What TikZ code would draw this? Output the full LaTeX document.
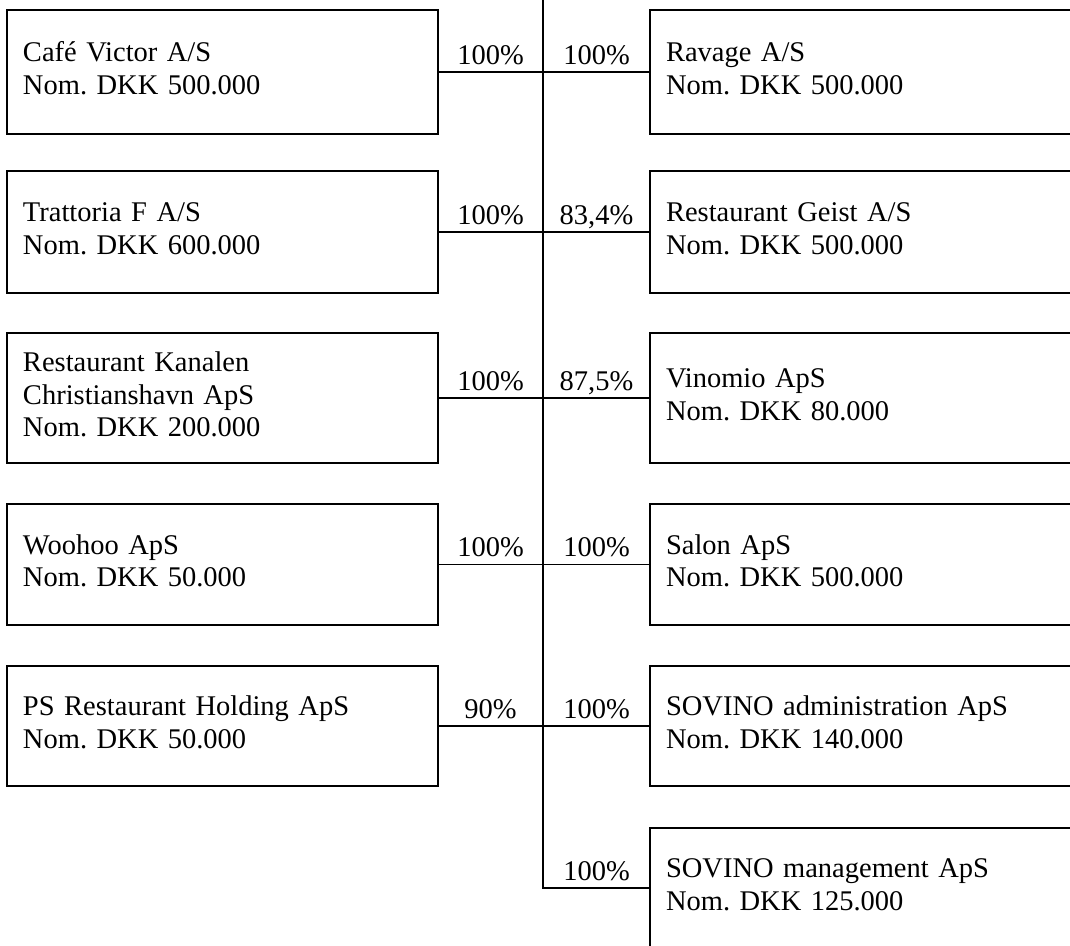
\documentclass[tikz,border=0pt]{standalone}
\usepackage{fontspec}
\setmainfont{Liberation Serif}
\frenchspacing
\newcommand\lnstrut{\rule[-8pt]{0pt}{28pt}}
\tikzset{
  txt/.style={font=\fontsize{28.5}{32.5}\selectfont},
  lbox/.style={txt, draw, line width=1.8pt, rectangle, minimum height=#1,
    text width=399pt, inner xsep=16pt, inner ysep=0pt, align=left},
  rbox/.style={txt, draw, line width=1.8pt, rectangle, minimum height=#1,
    text width=428pt, inner xsep=16pt, inner ysep=0pt, align=left},
  pct/.style={txt, inner sep=0pt, anchor=base},
  conn/.style={line width=1.8pt}
}
\begin{document}
\begin{tikzpicture}[x=1pt, y=-1pt]
\useasboundingbox (0,0) rectangle (1070,945);
\clip (0,0) rectangle (1070,945);

% left boxes
\node[lbox=124pt] (L1) at (222.5,72) {\lnstrut Café Victor A/S\\\lnstrut Nom. DKK 500.000};
\node[lbox=122pt] (L2) at (222.5,232) {\lnstrut Trattoria F A/S\\\lnstrut Nom. DKK 600.000};
\node[lbox=130pt] (L3) at (222.5,398) {\lnstrut Restaurant Kanalen\\\lnstrut Christianshavn ApS\\\lnstrut Nom. DKK 200.000};
\node[lbox=121pt] (L4) at (222.5,564.5) {\lnstrut Woohoo ApS\\\lnstrut Nom. DKK 50.000};
\node[lbox=120pt] (L5) at (222.5,726) {\lnstrut PS Restaurant Holding ApS\\\lnstrut Nom. DKK 50.000};

% right boxes
\node[rbox=124pt] (R1) at (880,72) {\lnstrut Ravage A/S\\\lnstrut Nom. DKK 500.000};
\node[rbox=122pt] (R2) at (880,232) {\lnstrut Restaurant Geist A/S\\\lnstrut Nom. DKK 500.000};
\node[rbox=130pt] (R3) at (880,398) {\lnstrut Vinomio ApS\\\lnstrut Nom. DKK 80.000};
\node[rbox=121pt] (R4) at (880,564.5) {\lnstrut Salon ApS\\\lnstrut Nom. DKK 500.000};
\node[rbox=120pt] (R5) at (880,726) {\lnstrut SOVINO administration ApS\\\lnstrut Nom. DKK 140.000};
\node[rbox=120pt] (R6) at (880,888) {\lnstrut SOVINO management ApS\\\lnstrut Nom. DKK 125.000};

% trunk
\coordinate (trunktop) at (543,-5);
\coordinate (j6) at (543,888);
\draw[conn] (trunktop) -- (j6) -- (R6.west);

% branches
\foreach \i in {1,...,5} {
  \draw[conn] (L\i.east) -- (R\i.west);
}

% percentages
\node[pct] (pl1) at (490.5,64) {100\%};
\node[pct] (pr1) at (596.5,64) {100\%};
\node[pct] (pl2) at (490.5,224) {100\%};
\node[pct] (pr2) at (596.5,224) {83,4\%};
\node[pct] (pl3) at (490.5,390) {100\%};
\node[pct] (pr3) at (596.5,390) {87,5\%};
\node[pct] (pl4) at (490.5,556.5) {100\%};
\node[pct] (pr4) at (596.5,556.5) {100\%};
\node[pct] (pl5) at (490.5,718) {90\%};
\node[pct] (pr5) at (596.5,718) {100\%};
\node[pct] (pr6) at (596.5,880) {100\%};
\end{tikzpicture}
\end{document}
